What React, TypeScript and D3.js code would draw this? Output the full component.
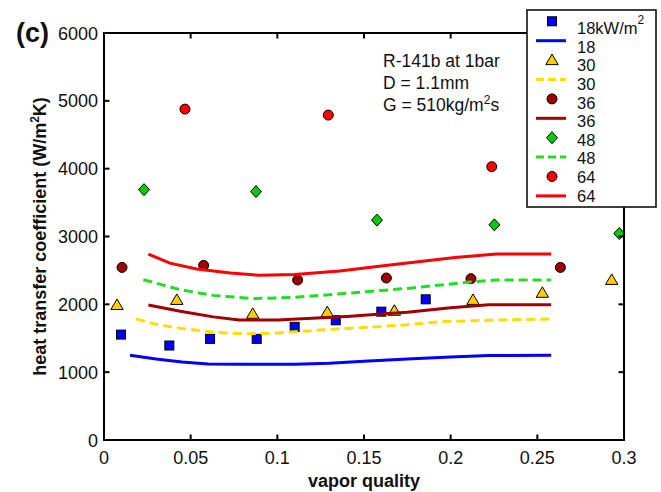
import React from "react";
import * as d3 from "d3";

// ---- data ----
const xTicks = [0, 0.05, 0.1, 0.15, 0.2, 0.25, 0.3];
const xTickLabels = ["0", "0.05", "0.1", "0.15", "0.2", "0.25", "0.3"];
const yTicks = [0, 1000, 2000, 3000, 4000, 5000, 6000];
const yTickLabels = ["0", "1000", "2000", "3000", "4000", "5000", "6000"];

const pts18x = [0.0098, 0.0377, 0.0612, 0.0881, 0.11, 0.1337, 0.16, 0.1856];
const pts18y = [1554, 1393, 1491, 1491, 1668, 1765, 1892, 2074];
const pts30x = [0.0075, 0.042, 0.0858, 0.1288, 0.1675, 0.2129, 0.2529, 0.2929];
const pts30y = [1990, 2065, 1860, 1885, 1905, 2065, 2170, 2360];
const pts36x = [0.0104, 0.0575, 0.1117, 0.1629, 0.2117, 0.2633];
const pts36y = [2544, 2574, 2359, 2388, 2378, 2544];
const pts48x = [0.0231, 0.0877, 0.1575, 0.2252, 0.2973];
const pts48y = [3691, 3662, 3241, 3172, 3044];
const pts64x = [0.0467, 0.1294, 0.2237];
const pts64y = [4878, 4790, 4029];

const line18: [number, number][] = [[0.015, 1250], [0.03, 1195], [0.045, 1150], [0.06, 1122], [0.08, 1118], [0.11, 1118], [0.13, 1132], [0.15, 1160], [0.175, 1195], [0.2, 1225], [0.222, 1245], [0.258, 1250]];
const line30: [number, number][] = [[0.0185, 1785], [0.03, 1705], [0.044, 1647], [0.063, 1590], [0.082, 1565], [0.1, 1578], [0.12, 1612], [0.14, 1645], [0.16, 1675], [0.175, 1700], [0.195, 1745], [0.222, 1765], [0.258, 1785]];
const line36: [number, number][] = [[0.0256, 1991], [0.044, 1897], [0.063, 1815], [0.078, 1770], [0.1, 1770], [0.12, 1794], [0.14, 1822], [0.16, 1858], [0.175, 1882], [0.2, 1950], [0.222, 1995], [0.258, 1995]];
const line48: [number, number][] = [[0.0227, 2363], [0.044, 2216], [0.063, 2132], [0.086, 2084], [0.11, 2103], [0.13, 2142], [0.16, 2205], [0.175, 2235], [0.213, 2334], [0.226, 2358], [0.258, 2358]];
const line64: [number, number][] = [[0.0256, 2741], [0.038, 2608], [0.0535, 2520], [0.073, 2461], [0.09, 2427], [0.11, 2440], [0.136, 2490], [0.16, 2565], [0.175, 2608], [0.2025, 2691], [0.2265, 2741], [0.258, 2741]];

const legendLabels = ["18kW/m", "18", "30", "30", "36", "36", "48", "48", "64", "64"];

// ---- styles ----
const FONT = "'Liberation Sans', Arial, Helvetica, sans-serif";
const C_BLUE = "#0000ff";
const C_YEL = "#ffcc00";
const C_YEL_L = "#ffdd00";
const C_DRED = "#a00000";
const C_GRN = "#00cc00";
const C_GRN_L = "#22dd22";
const C_RED = "#ff0000";

type Shape = "square" | "triangle" | "circle" | "diamond";

function Marker({ shape, x, y, fill }: { shape: Shape; x: number; y: number; fill: string }) {
  const sw = 1;
  if (shape === "square") return <rect x={x - 4.5} y={y - 4.5} width={9} height={9} fill={fill} stroke="#000" strokeWidth={sw} />;
  if (shape === "circle") return <circle cx={x} cy={y} r={5} fill={fill} stroke="#000" strokeWidth={sw} />;
  if (shape === "diamond") return <path d={`M${x},${y - 6}L${x + 5.5},${y}L${x},${y + 6}L${x - 5.5},${y}Z`} fill={fill} stroke="#000" strokeWidth={sw} />;
  return <path d={`M${x},${y - 6}L${x + 6.2},${y + 4.5}L${x - 6.2},${y + 4.5}Z`} fill={fill} stroke="#000" strokeWidth={sw} />;
}

export default function App() {
  const W = 661, H = 492;
  const L = 104, R = 624, T = 33, B = 440;
  const x = d3.scaleLinear().domain([0, 0.3]).range([L, R]);
  const y = d3.scaleLinear().domain([0, 6000]).range([B, T]);
  const lineGen = d3.line<[number, number]>().x((d) => x(d[0])).y((d) => y(d[1]));

  const pointSeries = [
    { xs: pts18x, ys: pts18y, shape: "square" as Shape, fill: C_BLUE },
    { xs: pts30x, ys: pts30y, shape: "triangle" as Shape, fill: C_YEL },
    { xs: pts36x, ys: pts36y, shape: "circle" as Shape, fill: C_DRED },
    { xs: pts48x, ys: pts48y, shape: "diamond" as Shape, fill: C_GRN },
    { xs: pts64x, ys: pts64y, shape: "circle" as Shape, fill: C_RED },
  ];
  const lineSeries = [
    { data: line18, color: C_BLUE, dash: undefined as string | undefined },
    { data: line30, color: C_YEL_L, dash: "9,5" },
    { data: line36, color: C_DRED, dash: undefined },
    { data: line48, color: C_GRN_L, dash: "9,5" },
    { data: line64, color: C_RED, dash: undefined },
  ];

  const tickLen = 5.5;
  const legX = 527, legY = 10, legW = 129, legH = 197;

  return (
    <svg width={W} height={H} style={{ position: "absolute", left: 0, top: 0, background: "#fff" }} fontFamily={FONT}>
      <rect x={0} y={0} width={W} height={H} fill="#fff" />
      {/* data: markers then lines in legend order */}
      {pointSeries.map((s, i) => (
        <g key={i}>
          {s.xs.map((xv, j) => (
            <Marker key={j} shape={s.shape} x={x(xv)} y={y(s.ys[j])} fill={s.fill} />
          ))}
          <path d={lineGen(lineSeries[i].data) || ""} fill="none" stroke={lineSeries[i].color} strokeWidth={3} strokeDasharray={lineSeries[i].dash} />
        </g>
      ))}

      {/* axes box */}
      <g stroke="#000" strokeWidth={2} fill="none">
        <line x1={L} y1={T} x2={L} y2={B} />
        <line x1={L - 1} y1={B} x2={R + 1} y2={B} />
        <line x1={L - 1} y1={T} x2={R + 1} y2={T} />
        <line x1={R} y1={T} x2={R} y2={B} />
        {xTicks.map((t, i) => (
          <g key={"xt" + i}>
            <line x1={x(t)} y1={B} x2={x(t)} y2={B - tickLen} />
            <line x1={x(t)} y1={T} x2={x(t)} y2={T + tickLen} />
          </g>
        ))}
        {yTicks.map((t, i) => (
          <g key={"yt" + i}>
            <line x1={L} y1={y(t)} x2={L + tickLen} y2={y(t)} />
            <line x1={R} y1={y(t)} x2={R - tickLen} y2={y(t)} />
          </g>
        ))}
      </g>

      {/* tick labels */}
      <g fontSize={18} fill="#111">
        {xTicks.map((t, i) => (
          <text key={"xl" + i} x={x(t)} y={464} textAnchor="middle">{xTickLabels[i]}</text>
        ))}
        {yTicks.map((t, i) => (
          <text key={"yl" + i} x={98} y={y(t) + 6.5} textAnchor="end">{yTickLabels[i]}</text>
        ))}
      </g>

      {/* axis labels */}
      <text x={(L + R) / 2} y={487} textAnchor="middle" fontSize={18} fontWeight="bold" fill="#111">vapor quality</text>
      <text transform={`translate(46,${(T + B) / 2}) rotate(-90)`} textAnchor="middle" fontSize={18} fontWeight="bold" fill="#111">
        heat transfer coefficient (W/m<tspan dy={-7} fontSize={12}>2</tspan><tspan dy={7}>K)</tspan>
      </text>
      <text x={16} y={42} fontSize={27} fontWeight="bold" fill="#111">(c)</text>

      {/* annotation */}
      <g fontSize={17.5} fill="#111">
        <text x={383} y={66.5}>R-141b at 1bar</text>
        <text x={383} y={88.5}>D = 1.1mm</text>
        <text x={383} y={110.5}>G = 510kg/m<tspan dy={-7} fontSize={12}>2</tspan><tspan dy={7}>s</tspan></text>
      </g>

      {/* legend */}
      <rect x={legX} y={legY} width={legW} height={legH} fill="#fff" stroke="#111" strokeWidth={1.6} />
      {legendLabels.map((lab, i) => {
        const my = 21.3 + 19.4 * i;
        const ty = i === 0 ? 34.3 : 52.7 + 18.6 * (i - 1);
        const k = Math.floor(i / 2);
        const isLine = i % 2 === 1;
        return (
          <g key={"lg" + i}>
            {isLine ? (
              <line x1={536} x2={566} y1={my} y2={my} stroke={lineSeries[k].color} strokeWidth={3} strokeDasharray={lineSeries[k].dash ? "8,4" : undefined} />
            ) : (
              <Marker shape={pointSeries[k].shape} x={552} y={my} fill={pointSeries[k].fill} />
            )}
            <text x={577} y={ty} fontSize={16.5} fill="#111">
              {lab}
              {i === 0 ? <tspan dy={-10} fontSize={12}>2</tspan> : null}
            </text>
          </g>
        );
      })}
    </svg>
  );
}
